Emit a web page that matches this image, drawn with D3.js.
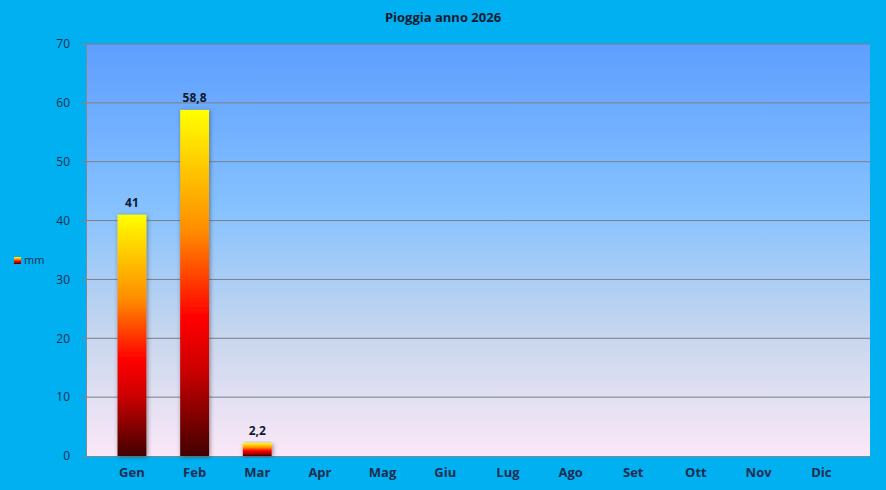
<html>
<head>
<script src="https://d3js.org/d3.v7.min.js"></script>
<style>
  body { margin: 0; background: #00b0f0; }
  text { font-family: "Open Sans", "Liberation Sans", sans-serif; }
</style>
</head>
<body>
<div id="vis"></div>
<script>
    // data
    var months = ["Gen", "Feb", "Mar", "Apr", "Mag", "Giu", "Lug", "Ago", "Set", "Ott", "Nov", "Dic"];
    var rain = [41, 58.8, 2.2, null, null, null, null, null, null, null, null, null];
    var yTicks = [0, 10, 20, 30, 40, 50, 60, 70];

    var W = 886, H = 490;
    var plot = { left: 86, right: 870, top: 44, bottom: 456 };

    var svg = d3.select("#vis").append("svg")
        .attr("width", W).attr("height", H);

    var defs = svg.append("defs");

    // plot background gradient
    var bg = defs.append("linearGradient").attr("id", "bg")
        .attr("x1", 0).attr("y1", 0).attr("x2", 0).attr("y2", 1);
    bg.append("stop").attr("offset", "0%").attr("stop-color", "#5e9eff");
    bg.append("stop").attr("offset", "40%").attr("stop-color", "#86c2ff");
    bg.append("stop").attr("offset", "70%").attr("stop-color", "#c6d6ee");
    bg.append("stop").attr("offset", "100%").attr("stop-color", "#fbe8f7");

    // bar gradient
    var bar = defs.append("linearGradient").attr("id", "bar")
        .attr("x1", 0).attr("y1", 0).attr("x2", 0).attr("y2", 1);
    bar.append("stop").attr("offset", "0%").attr("stop-color", "#ffff00");
    bar.append("stop").attr("offset", "35%").attr("stop-color", "#ff8c00");
    bar.append("stop").attr("offset", "60%").attr("stop-color", "#ff0000");
    bar.append("stop").attr("offset", "75%").attr("stop-color", "#cc0000");
    bar.append("stop").attr("offset", "100%").attr("stop-color", "#420000");

    var shadow = defs.append("filter").attr("id", "shadow")
        .attr("x", "-30%").attr("y", "-10%").attr("width", "160%").attr("height", "120%");
    shadow.append("feDropShadow").attr("dx", 1).attr("dy", 1)
        .attr("stdDeviation", 2).attr("flood-color", "#333").attr("flood-opacity", 0.55);

    svg.append("rect")
        .attr("x", plot.left).attr("y", plot.top)
        .attr("width", plot.right - plot.left).attr("height", plot.bottom - plot.top)
        .attr("fill", "url(#bg)");

    var x = d3.scaleBand()
        .domain(months)
        .range([100.6, 852.6])
        .paddingInner(0.54)
        .paddingOuter(0.27);

    var y = d3.scaleLinear()
        .domain([0, 70])
        .range([plot.bottom, plot.top]);

    // gridlines
    svg.append("g")
        .selectAll("line")
        .data(yTicks.slice(1))
        .enter().append("line")
        .attr("x1", plot.left - 4).attr("x2", plot.right)
        .attr("y1", function (d) { return y(d); })
        .attr("y2", function (d) { return y(d); })
        .attr("stroke", "#7a7f88").attr("stroke-width", 1);

    // y axis
    var yAxis = svg.append("g")
        .attr("transform", "translate(" + plot.left + ",0)")
        .call(d3.axisLeft(y).tickValues(yTicks).tickSize(4).tickPadding(12));
    yAxis.select(".domain").attr("stroke", "#7a8a99");
    yAxis.selectAll(".tick line").attr("stroke", "#7a8a99");
    yAxis.selectAll("text")
        .attr("fill", "#1f2d50")
        .style("font-size", "12px")
        .style("font-family", "'Open Sans', sans-serif");

    // x axis
    var xAxis = svg.append("g")
        .attr("transform", "translate(0," + plot.bottom + ")")
        .call(d3.axisBottom(x).tickSize(0).tickPadding(12));
    xAxis.select(".domain").attr("d", "M" + plot.left + ",0.5H" + plot.right).attr("stroke", "#7a8a99");
    xAxis.selectAll("text")
        .attr("fill", "#1f2d50")
        .style("font-size", "13px")
        .style("font-weight", "bold")
        .style("font-family", "'Open Sans', sans-serif");

    var data = months.map(function (m, i) { return { m: m, v: rain[i] }; })
        .filter(function (d) { return d.v != null; });

    svg.append("g")
        .selectAll("rect")
        .data(data)
        .enter().append("rect")
        .attr("x", function (d) { return x(d.m); })
        .attr("y", function (d) { return y(d.v); })
        .attr("width", x.bandwidth())
        .attr("height", function (d) { return y(0) - y(d.v); })
        .attr("fill", "url(#bar)")
        .attr("filter", "url(#shadow)");

    svg.append("g")
        .selectAll("text")
        .data(data)
        .enter().append("text")
        .attr("x", function (d) { return x(d.m) + x.bandwidth() / 2; })
        .attr("y", function (d) { return y(d.v) - 8; })
        .attr("text-anchor", "middle")
        .style("font-size", "12px")
        .style("font-weight", "bold")
        .attr("fill", "#111a30")
        .text(function (d) { return String(d.v).replace(".", ","); });

    // title
    svg.append("text")
        .attr("x", 443).attr("y", 22)
        .attr("text-anchor", "middle")
        .style("font-size", "13px")
        .style("font-weight", "bold")
        .attr("fill", "#111a30")
        .text("Pioggia anno 2026");

    // legend
    svg.append("rect")
        .attr("x", 14).attr("y", 257).attr("width", 7).attr("height", 7)
        .attr("fill", "url(#bar)");
    svg.append("text")
        .attr("x", 24).attr("y", 264)
        .style("font-size", "11px")
        .attr("fill", "#1f2d50")
        .text("mm");
</script>
</body>
</html>
